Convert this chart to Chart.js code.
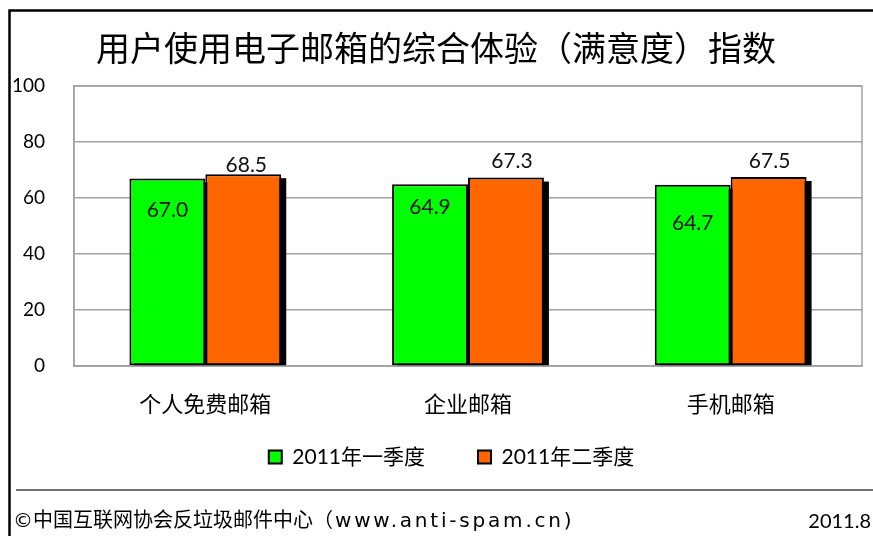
<!DOCTYPE html>
<html><head><meta charset="utf-8">
<script src="https://cdn.jsdelivr.net/npm/chart.js@4"></script>
<style>html,body{margin:0;padding:0;background:#fff;overflow:hidden;}canvas{display:block;}</style>
</head><body>
<canvas id="c" width="873" height="536"></canvas>
<script>
const categories = ['个人免费邮箱', '企业邮箱', '手机邮箱'];
const seriesNames = ['2011年一季度', '2011年二季度'];
const q1Values = [67.0, 64.9, 64.7];
const q2Values = [68.5, 67.3, 67.5];
const yTicks = [0, 20, 40, 60, 80, 100];
const titleText = '用户使用电子邮箱的综合体验（满意度）指数';
const sourceText = '©中国互联网协会反垃圾邮件中心（www.anti-spam.cn)';
const dateText = '2011.8';

const LATIN = 'Lato, "Noto Sans CJK SC", sans-serif';
const CJK = '"Noto Sans CJK SC", Lato, sans-serif';
const FOOT = '"DejaVu Sans", "Noto Sans CJK SC", sans-serif';
const GRID = '#a3a3a3';

const shadowPlugin = {
  id: 'barShadow',
  beforeDatasetsDraw(chart) {
    const ctx = chart.ctx;
    const a = chart.chartArea;
    ctx.save();
    ctx.strokeStyle = GRID; ctx.lineWidth = 1.5;
    ctx.strokeRect(a.left, a.top, a.right - a.left, a.bottom - a.top);
    ctx.fillStyle = '#000';
    chart.data.datasets.forEach((ds, di) => {
      chart.getDatasetMeta(di).data.forEach(bar => {
        const p = bar.getProps(['x', 'y', 'base', 'width'], true);
        ctx.fillRect(p.x - p.width / 2 + 5, p.y + 4, p.width, p.base - p.y - 4);
      });
    });
    ctx.restore();
  }
};

const labelPlugin = {
  id: 'valueLabels',
  afterDatasetsDraw(chart, args, opts) {
    const ctx = chart.ctx;
    ctx.save();
    ctx.font = opts.font; ctx.fillStyle = opts.color;
    ctx.textAlign = 'center'; ctx.textBaseline = 'middle';
    chart.data.datasets.forEach((ds, di) => {
      chart.getDatasetMeta(di).data.forEach((bar, i) => {
        ctx.fillText(ds.data[i].toFixed(1), bar.x + opts.dx[di][i], bar.y + opts.dy[di][i]);
      });
    });
    ctx.restore();
  }
};

const framePlugin = {
  id: 'frame',
  afterLayout(chart, args, opts) {
    const t = chart.titleBlock, l = chart.legend;
    if (t) { t.left += opts.titleShift; t.right += opts.titleShift; }
    if (l) {
      l.left += opts.legendShift; l.right += opts.legendShift;
      const lab = l.options.labels;
      const itemH = Math.max(lab.font.size, lab.boxHeight);
      const h = l.height;
      l.top = opts.legendCenterY - lab.padding - itemH / 2;
      l.bottom = l.top + h;
    }
  },
  afterDraw(chart) {
    const ctx = chart.ctx;
    ctx.save();
    ctx.strokeStyle = '#000'; ctx.lineWidth = 2.5;
    ctx.beginPath();
    ctx.moveTo(9.5, 536); ctx.lineTo(9.5, 10.5); ctx.lineTo(873, 10.5);
    ctx.stroke();
    ctx.strokeStyle = '#444'; ctx.lineWidth = 1.5;
    ctx.beginPath(); ctx.moveTo(16, 490); ctx.lineTo(873, 490); ctx.stroke();
    ctx.fillStyle = '#000';
    ctx.font = '20px ' + FOOT;
    ctx.textBaseline = 'middle';
    ctx.textAlign = 'left';
    const cut = sourceText.indexOf('（') + 1;
    const head = sourceText.slice(0, cut), tail = sourceText.slice(cut);
    ctx.fillText(head, 13, 522);
    const hw = ctx.measureText(head).width;
    ctx.letterSpacing = '2.8px';
    ctx.fillText(tail, 13 + hw + 2, 522);
    ctx.letterSpacing = '0px';
    ctx.font = '20px ' + LATIN;
    ctx.textAlign = 'right';
    ctx.fillText(dateText, 871, 522);
    ctx.restore();
  }
};

new Chart(document.getElementById('c'), {
  type: 'bar',
  data: {
    labels: categories,
    datasets: [
      { label: seriesNames[0], data: q1Values, backgroundColor: '#00ff00', borderColor: '#000', borderWidth: 2, borderSkipped: false },
      { label: seriesNames[1], data: q2Values, backgroundColor: '#ff6600', borderColor: '#000', borderWidth: 2, borderSkipped: false }
    ]
  },
  options: {
    responsive: false,
    animation: false,
    devicePixelRatio: 1,
    layout: { padding: { left: 0, right: 11, top: 0, bottom: 26 } },
    datasets: { bar: { categoryPercentage: 0.578, barPercentage: 1 } },
    scales: {
      x: {
        grid: { display: false, drawTicks: false },
        border: { display: true, color: GRID, width: 1.5 },
        ticks: { font: { family: CJK, size: 22 }, color: '#000', padding: 24 },
        afterFit(s) { s.height = 60; }
      },
      y: {
        min: 0, max: 100,
        afterBuildTicks(s) { s.ticks = yTicks.map(v => ({ value: v })); },
        grid: { color: GRID, lineWidth: 1.5, drawTicks: false },
        border: { display: true, color: GRID, width: 1.5 },
        ticks: { font: { family: LATIN, size: 19 }, color: '#000', padding: 29 },
        afterFit(s) { s.width = 74; }
      }
    },
    plugins: {
      title: {
        display: true, text: titleText, color: '#000',
        font: { family: CJK, size: 34, weight: 'normal', lineHeight: 1.2 },
        padding: { top: 27.6, bottom: 17.6 }
      },
      legend: {
        position: 'bottom',
        labels: { boxWidth: 13, boxHeight: 13, padding: 53, color: '#000', font: { family: LATIN, size: 21 } }
      },
      tooltip: { enabled: false },
      valueLabels: {
        font: '21px ' + LATIN, color: '#111',
        dx: [[0, 0, 0], [3, 6, 1]],
        dy: [[32, 23, 38], [-9, -16, -16]]
      },
      frame: { titleShift: 5, legendShift: 20.5, legendCenterY: 457 }
    }
  },
  plugins: [shadowPlugin, labelPlugin, framePlugin]
});
</script>
</body></html>
